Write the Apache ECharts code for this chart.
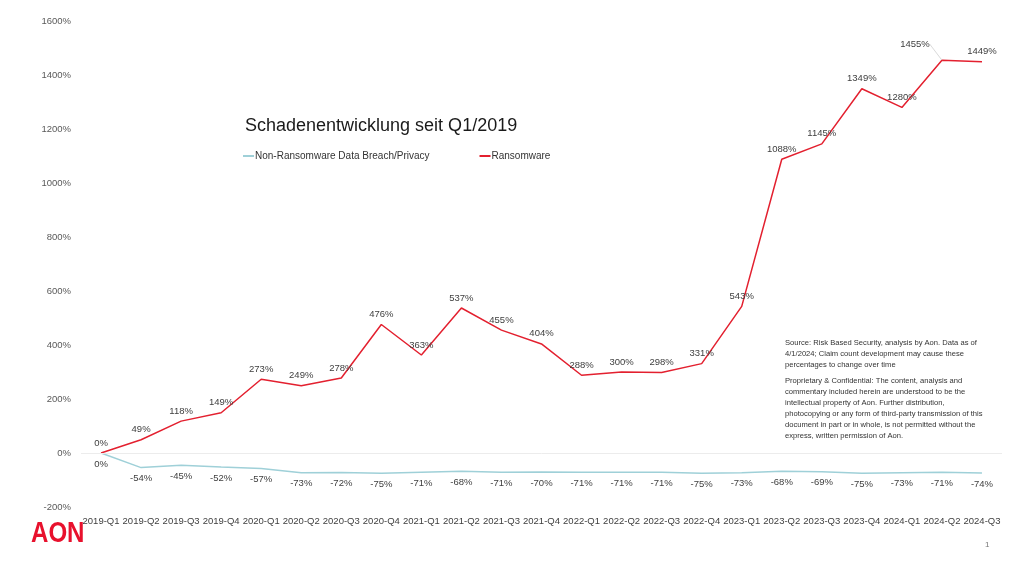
<!DOCTYPE html>
<html>
<head>
<meta charset="utf-8">
<script src="https://cdn.jsdelivr.net/npm/echarts@6/dist/echarts.min.js"></script>
<style>html,body{margin:0;padding:0;background:#fff}#c{width:1024px;height:576px}</style>
</head>
<body>
<div id="c"></div>
<script>
const categories = ['2019-Q1','2019-Q2','2019-Q3','2019-Q4','2020-Q1','2020-Q2','2020-Q3','2020-Q4','2021-Q1','2021-Q2','2021-Q3','2021-Q4','2022-Q1','2022-Q2','2022-Q3','2022-Q4','2023-Q1','2023-Q2','2023-Q3','2023-Q4','2024-Q1','2024-Q2','2024-Q3'];
const nonRansomware = [0,-54,-45,-52,-57,-73,-72,-75,-71,-68,-71,-70,-71,-71,-71,-75,-73,-68,-69,-75,-73,-71,-74];
const ransomware = [0,49,118,149,273,249,278,476,363,537,455,404,288,300,298,331,543,1088,1145,1349,1280,1455,1449];
const yTicks = { min: -200, max: 1600, interval: 200 };
const titleText = 'Schadenentwicklung seit Q1/2019';
const seriesNames = ['Non-Ransomware Data Breach/Privacy', 'Ransomware'];
const noteLines1 = ['Source: Risk Based Security, analysis by Aon. Data as of','4/1/2024; Claim count development may cause these','percentages to change over time'];
const noteLines2 = ['Proprietary & Confidential: The content, analysis and','commentary included herein are understood to be the','intellectual property of Aon. Further distribution,','photocopying or any form of third-party transmission of this','document in part or in whole, is not permitted without the','express, written permission of Aon.'];

const FONT = 'Liberation Sans, Arial, sans-serif';
const LEADER_INDEX = 21;
const ransomwareData = ransomware.map(function (v, i) {
  if (i === LEADER_INDEX) {
    return { value: v, labelLine: { show: true, lineStyle: { color: '#cfcfcf', width: 0.8 } } };
  }
  return v;
});
const chart = echarts.init(document.getElementById('c'), null, {renderer: 'canvas'});
chart.setOption({
  backgroundColor: '#fff',
  animation: false,
  textStyle: { fontFamily: FONT },
  title: {
    text: titleText, left: 240, top: 112,
    textStyle: { fontSize: 18, fontWeight: 'normal', color: '#1a1a1a', fontFamily: FONT }
  },
  legend: {
    left: 238, top: 146, itemWidth: 11, itemHeight: 2, itemGap: 50,
    icon: 'rect',
    textStyle: { fontSize: 10, color: '#333', padding: [0,0,0,-4] },
    data: seriesNames
  },
  grid: { left: 81, right: 22, top: 21, bottom: 69 },
  xAxis: {
    type: 'category', data: categories, boundaryGap: true,
    axisLine: { show: false }, axisTick: { show: false },
    axisLabel: { fontSize: 9.5, color: '#404040', margin: 9, interval: 0 }
  },
  yAxis: {
    type: 'value', min: yTicks.min, max: yTicks.max, interval: yTicks.interval,
    splitLine: { show: false }, axisLine: { show: false }, axisTick: { show: false },
    axisLabel: { fontSize: 9.5, color: '#595959', margin: 10, formatter: function (v) { return String(v) + '%'; } }
  },
  series: [
    {
      name: seriesNames[0], type: 'line', data: nonRansomware,
      symbol: 'circle', symbolSize: 0.1, showSymbol: true, color: '#9fd0d8',
      lineStyle: { width: 1.5, color: '#9fd0d8' },
      label: { show: true, position: 'bottom', distance: 6, fontSize: 9.5, color: '#404040', formatter: '{c}%' },
      markLine: {
        silent: true, symbol: 'none', label: { show: false },
        lineStyle: { color: '#ececec', type: 'solid', width: 1 },
        data: [{ yAxis: 0 }]
      },
      z: 2
    },
    {
      name: seriesNames[1], type: 'line', data: ransomwareData,
      symbol: 'circle', symbolSize: 0.1, showSymbol: true, color: '#e3202f',
      lineStyle: { width: 1.5, color: '#e3202f' },
      label: { show: true, position: 'top', distance: 5, fontSize: 9.5, color: '#404040', formatter: '{c}%' },
      labelLayout: function (p) {
        if (p.dataIndex === LEADER_INDEX) return { dx: -27, dy: -6 };
        return {};
      },
      z: 3
    }
  ],
  graphic: [
    {
      type: 'text', left: 785, top: 337,
      style: { text: noteLines1.join('\n'), font: '7.6px ' + FONT, fill: '#333', lineHeight: 11 }
    },
    {
      type: 'text', left: 785, top: 375,
      style: { text: noteLines2.join('\n'), font: '7.6px ' + FONT, fill: '#333', lineHeight: 11 }
    },
    {
      type: 'text', x: 31, y: 519, scaleX: 0.83,
      style: { text: 'AON', font: 'bold 29px ' + FONT, fill: '#e8112d' }
    },
    {
      type: 'text', left: 985, top: 541,
      style: { text: '1', font: '8px ' + FONT, fill: '#777' }
    }
  ]
});
</script>
</body>
</html>
